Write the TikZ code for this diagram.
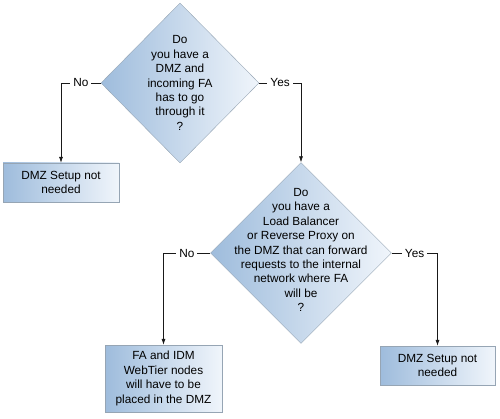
\documentclass[tikz,border=0pt]{standalone}
\usepackage{fontspec}
\setmainfont{Liberation Sans}
\usetikzlibrary{shapes.geometric,arrows.meta,positioning,shadows}
\definecolor{qdark}{RGB}{158,188,220}
\definecolor{qlight}{RGB}{240,245,251}
\definecolor{qedge}{RGB}{150,165,180}

\begin{document}
\begin{tikzpicture}[x=1pt, y=-1pt,
        every node/.style={font=\fontsize{11.8}{14.4}\selectfont},
        decision/.style={diamond, draw=qedge, left color=qdark, right color=qlight, inner sep=0pt},
        qtext/.style={align=center, inner sep=0pt},
        outcome/.style={rectangle, draw=qedge, left color=qdark, right color=qlight, align=center, inner sep=0pt,
            drop shadow={shadow xshift=0.9pt, shadow yshift=-0.9pt, fill=black!60, opacity=1}},
        answer/.style={fill=white, inner sep=3pt},
        flow/.style={-{Latex[length=6pt,width=4pt]}, line width=0.6pt, draw=black!90}]
        \useasboundingbox (0,0) rectangle (500,419);

        \node[decision, minimum width=158pt, minimum height=160pt] (dmz) at (180,83) {};
        \node[qtext] (dmzq) at (180,83) {Do\\you have a\\DMZ and\\incoming FA\\has to go\\through it\\?};
        \node[outcome, minimum width=116pt, minimum height=39pt] (nodmz) at (61,182.5) {DMZ Setup not\\needed};

        \node[decision, minimum width=181pt, minimum height=181pt] (lb) at (301,253) {};
        \node[qtext] (lbq) at (301,250) {Do\\you have a\\Load Balancer\\or Reverse Proxy on\\the DMZ that can forward\\requests to the internal\\network where FA\\will be\\?};
        \node[outcome, minimum width=117pt, minimum height=67pt] (webtier) at (163.5,378.5) {FA and IDM\\WebTier nodes\\will have to be\\placed in the DMZ};
        \node[outcome, minimum width=115pt, minimum height=39pt] (nolb) at (437.5,365.5) {DMZ Setup not\\needed};

        \draw[flow] (dmz.west) -| node[answer, pos=0.25] {No} (nodmz.north);
        \draw[flow] (dmz.east) -| node[answer, pos=0.25] {Yes} (lb.north);
        \draw[flow] (lb.west) -| node[answer, pos=0.25] {No} (webtier.north);
        \draw[flow] (lb.east) -| node[answer, pos=0.25] {Yes} (nolb.north);
    \end{tikzpicture}
\end{document}
